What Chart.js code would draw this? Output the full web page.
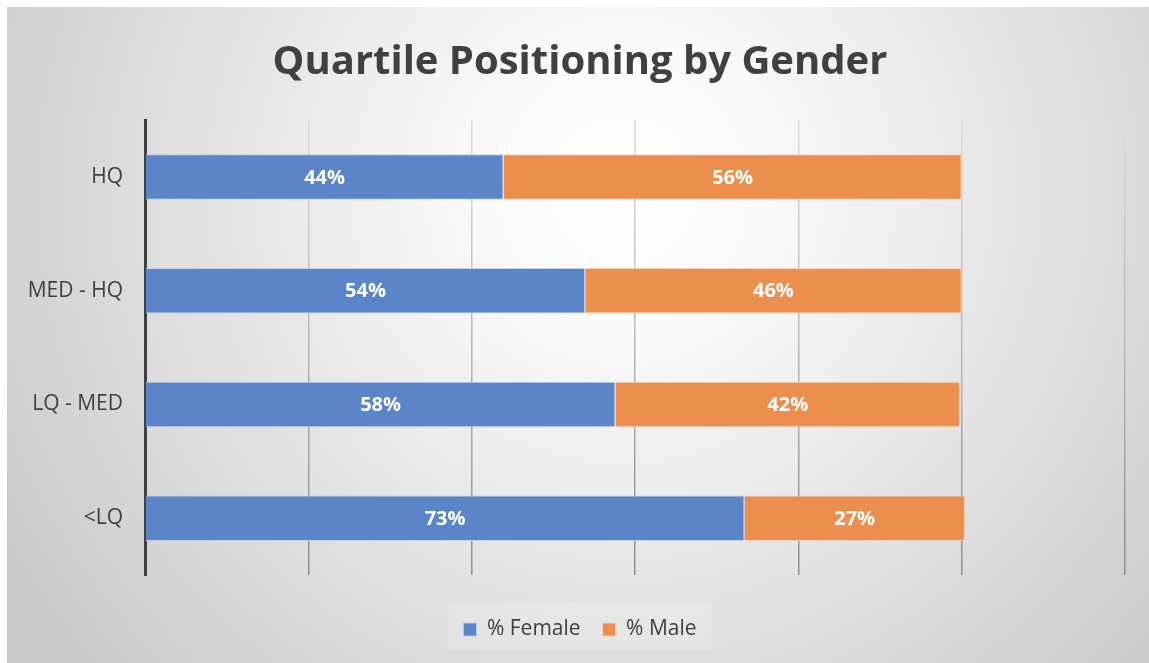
<!DOCTYPE html>
<html>
<head>
<meta charset="utf-8">
<script src="https://cdn.jsdelivr.net/npm/chart.js@4.4.1/dist/chart.umd.min.js"></script>
<style>
html,body{margin:0;padding:0;background:#fff;}
#wrap{position:absolute;left:7px;top:7px;width:1142px;height:656px;}
</style>
</head>
<body>
<div id="wrap"><canvas id="c" width="1142" height="656"></canvas></div>
<script>
const categories = ['HQ', 'MED - HQ', 'LQ - MED', '<LQ'];
const femaleValues = [0.439, 0.539, 0.576, 0.734];
const maleValues = [0.561, 0.461, 0.422, 0.270];
const femaleLabels = ['44%', '54%', '58%', '73%'];
const maleLabels = ['56%', '46%', '42%', '27%'];
const xTicks = [0, 0.2, 0.4, 0.6, 0.8, 1.0, 1.2];

const FONT = "'Open Sans', 'Noto Sans', sans-serif";

const bgPlugin = {
  id: 'bg',
  beforeDraw(chart) {
    const {ctx, width, height} = chart;
    const g = ctx.createRadialGradient(width*0.54, height*0.28, 20, width*0.54, height*0.28, width*0.64);
    g.addColorStop(0, '#ffffff');
    g.addColorStop(0.15, '#fbfbfb');
    g.addColorStop(1, '#c9c9c9');
    ctx.save();
    ctx.fillStyle = g;
    ctx.fillRect(0, 0, width, height);
    const lg = chart.legend;
    if (lg) {
      ctx.fillStyle = 'rgba(255,255,255,0.18)';
      ctx.fillRect(lg.left + (lg.width - 264)/2, lg.top + 6, 264, 47);
    }
    ctx.restore();
  }
};

const labelPlugin = {
  id: 'segLabels',
  afterDatasetsDraw(chart) {
    const {ctx} = chart;
    ctx.save();
    ctx.font = "bold 20px " + FONT;
    ctx.fillStyle = '#ffffff';
    ctx.textAlign = 'center';
    ctx.textBaseline = 'middle';
    const sets = [femaleLabels, maleLabels];
    chart.data.datasets.forEach((ds, di) => {
      const meta = chart.getDatasetMeta(di);
      meta.data.forEach((el, i) => {
        const cx = (el.x + el.base) / 2;
        ctx.fillText(sets[di][i], cx, el.y + 1);
      });
    });
    ctx.restore();
  }
};

function gridColor(c) {
  const a = c.chart.chartArea;
  if (!a) return '#bbbbbb';
  const g = c.chart.ctx.createLinearGradient(0, a.top, 0, a.bottom);
  g.addColorStop(0, '#dcdcdc');
  g.addColorStop(1, '#8f8f8f');
  return g;
}

new Chart(document.getElementById('c'), {
  type: 'bar',
  data: {
    labels: categories,
    datasets: [
      {label: '% Female', data: femaleValues, backgroundColor: '#5b84c9', borderColor: 'rgba(190,205,235,0.9)', borderWidth: 1, categoryPercentage: 1, barPercentage: 0.4},
      {label: '% Male', data: maleValues, backgroundColor: '#ec8e4e', borderColor: 'rgba(250,210,185,0.9)', borderWidth: 1, categoryPercentage: 1, barPercentage: 0.4}
    ]
  },
  options: {
    indexAxis: 'y',
    responsive: false,
    animation: false,
    layout: {padding: {left: 14, right: 10, top: 0, bottom: 13}},
    scales: {
      x: {
        stacked: true, min: 0, max: 1.2,
        afterBuildTicks(s) { s.ticks = xTicks.map(v => ({value: v})); },
        afterFit(s) { s.height = 22; },
        ticks: {display: false},
        grid: {color: gridColor, lineWidth: 1.5, drawTicks: false},
        border: {display: false}
      },
      y: {
        stacked: true,
        afterFit(s) { s.width = 124; },
        ticks: {color: '#404040', font: {family: FONT, size: 21}, padding: 22},
        grid: {display: false, drawTicks: false},
        border: {display: true, color: '#404040', width: 3}
      },
      ySpacer: {
        type: 'category',
        position: 'right',
        display: true,
        afterFit(s) { s.width = 14; },
        ticks: {display: false},
        grid: {display: false, drawTicks: false},
        border: {display: false}
      }
    },
    plugins: {
      title: {
        display: true,
        text: 'Quartile Positioning by Gender',
        color: '#404040',
        font: {family: FONT, size: 40, weight: 'bold'},
        padding: {top: 32, bottom: 33}
      },
      legend: {
        position: 'bottom',
        labels: {color: '#404040', font: {family: FONT, size: 21}, boxWidth: 13, boxHeight: 13, padding: 22},
      },
      tooltip: {enabled: false}
    }
  },
  plugins: [bgPlugin, labelPlugin]
});
</script>
</body>
</html>
